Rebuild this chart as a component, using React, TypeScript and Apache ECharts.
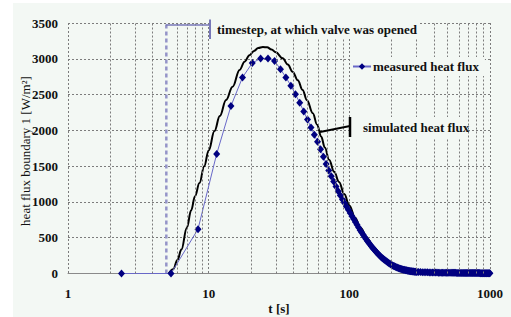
import React, { useEffect, useRef } from "react";
import * as echarts from "echarts";

// ---- data ----
const xTickLabels = ["1", "10", "100", "1000"];
const yTicks = [0, 500, 1000, 1500, 2000, 2500, 3000, 3500];

// minor log grid lines (2..9 of each decade); at t = 5 the valve line takes the gridline's place
const minorGridX = [
  2, 3, 4, 6, 7, 8, 9,
  20, 30, 40, 50, 60, 70, 80, 90,
  200, 300, 400, 500, 600, 700, 800, 900,
];

const valveOpenTime = 5; // s

// measured heat flux: time [s]
const measuredT = [
  2.4, 5.4, 8.4, 11.4, 14.4, 17.4, 20.4, 23.4, 26.4, 29.4,
  32.4, 35.4, 38.4, 41.4, 44.4, 47.4, 50.4, 53.4, 56.4, 59.4,
  62.4, 65.4, 68.4, 71.4, 74.4, 77.4, 80.4, 83.4, 86.4, 89.4,
  92.4, 95.4, 98.4, 101.4, 104.4, 107.4, 110.4, 113.4, 116.4, 119.4,
  122.4, 125.4, 128.4, 131.4, 134.4, 137.4, 140.4, 143.4, 146.4, 149.4,
  152.4, 155.4, 158.4, 161.4, 164.4, 167.4, 170.4, 173.4, 176.4, 179.4,
  182.4, 185.4, 188.4, 191.4, 194.4, 197.4, 200.4, 203.4, 206.4, 209.4,
  212.4, 215.4, 218.4, 221.4, 224.4, 227.4, 230.4, 233.4, 236.4, 239.4,
  242.4, 245.4, 248.4, 251.4, 254.4, 257.4, 260.4, 263.4, 266.4, 269.4,
  272.4, 275.4, 278.4, 281.4, 284.4, 287.4, 290.4, 293.4, 296.4, 299.4, 302.4,
  310, 320, 330, 340, 350, 360, 370, 380, 390, 400,
  410, 420, 430, 440, 450, 460, 470, 480, 490, 500,
  510, 520, 530, 540, 550, 560, 570, 580, 590, 600,
  610, 620, 630, 640, 650, 660, 670, 680, 690, 700,
  710, 720, 730, 740, 750, 760, 770, 780, 790, 800,
  810, 820, 830, 840, 850, 860, 870, 880, 890, 900,
  910, 920, 930, 940, 950, 960, 970, 980, 990, 998.4,
];

// measured heat flux: value [W/m²]
const measuredV = [
  0, 0, 620, 1670, 2340, 2740, 2940, 3005, 3005, 2970,
  2855, 2740, 2625, 2505, 2385, 2265, 2150, 2040, 1940, 1840,
  1735, 1630, 1530, 1440, 1360, 1285, 1215, 1150, 1090, 1035,
  985, 935, 890, 845, 800, 760, 720, 680, 642, 606,
  572, 540, 510, 482, 455, 430, 405, 382, 360, 340,
  320, 301, 283, 266, 250, 235, 221, 208, 196, 184,
  173, 163, 153, 144, 135, 127, 120, 113, 106, 100,
  94, 89, 84, 79, 75, 71, 67, 63, 60, 57,
  54, 51, 49, 46, 44, 42, 40, 38, 36, 35,
  33, 32, 30, 29, 28, 27, 26, 25, 24, 23, 22,
  21, 20, 19, 18, 17, 16, 15, 15, 14, 14,
  13, 13, 12, 12, 12, 11, 11, 11, 10, 10,
  10, 10, 9, 9, 9, 9, 9, 8, 8, 8,
  8, 8, 8, 8, 7, 7, 7, 7, 7, 7,
  7, 7, 7, 6, 6, 6, 6, 6, 6, 6,
  6, 6, 6, 6, 5, 5, 5, 5, 5, 5,
  5, 5, 5, 5, 5, 5, 5, 5, 5, 5,
];

// simulated heat flux
const simulatedT = [
  5.2, 5.6, 6.0, 6.4, 7.0, 7.5, 8.0, 8.6, 9.3, 10.0,
  11.0, 12.0, 13.3, 14.8, 16.6, 18.0, 19.5, 21.0, 22.5, 24.3,
  26.0, 28.0, 30.0, 33.6, 36.5, 39.5, 43.0, 46.5, 50.0, 55.0,
  59.0, 63.0, 67.0, 71.8, 78.0, 84.5, 92.0, 100, 110, 120,
  135, 150, 170, 200, 240, 300, 400, 600, 1000,
];
const simulatedV = [
  0, 60, 190, 335, 640, 880, 1080, 1265, 1500, 1720,
  1990, 2200, 2425, 2610, 2845, 2960, 3050, 3110, 3150, 3165,
  3160, 3130, 3090, 3007, 2920, 2820, 2700, 2565, 2420, 2240,
  2080, 1915, 1760, 1590, 1420, 1280, 1110, 950, 780, 640,
  480, 360, 240, 125, 60, 25, 8, 2, 0,
];

const measuredName = "measured heat flux";
const simulatedName = "simulated heat flux";
const valveText = "timestep, at which valve was opened";
const yTitle = "heat flux boundary 1 [W/m²]";
const xTitle = "t [s]";

const FONT = "'Liberation Serif', 'Times New Roman', serif";
const BG = "#f3f8f4";
const GRID_COLOR = "#7c7c7c";

export default function App() {
  const ref = useRef<HTMLDivElement>(null);

  useEffect(() => {
    if (!ref.current) return;
    const chart = echarts.init(ref.current, undefined, { renderer: "svg" });

    const measured = measuredT.map((t, i) => [t, measuredV[i]]);
    const simulated = simulatedT.map((t, i) => [t, simulatedV[i]]);
    const yMin = yTicks[0];
    const yMax = yTicks[yTicks.length - 1];

    const option: any = {
      animation: false,
      backgroundColor: BG,
      grid: { left: 68, right: 21, top: 23, bottom: 43.5 },
      xAxis: {
        type: "log",
        logBase: 10,
        min: 1,
        max: 1000,
        axisLine: { show: true, onZero: false, lineStyle: { color: "#8a8a8a", width: 1 } },
        axisTick: { show: false },
        axisLabel: {
          margin: 13,
          fontFamily: FONT,
          fontWeight: "bold",
          fontSize: 13,
          color: "#111",
          formatter: (v: number) => {
            const idx = Math.round(Math.log10(v));
            return xTickLabels[idx] ?? String(v);
          },
        },
        splitLine: { show: true, lineStyle: { color: GRID_COLOR, type: [2, 2], width: 1 } },
      },
      yAxis: {
        type: "value",
        min: yMin,
        max: yMax,
        interval: yTicks[1] - yTicks[0],
        axisLine: { show: false },
        axisTick: { show: false },
        axisLabel: {
          margin: 10,
          fontFamily: FONT,
          fontWeight: "bold",
          fontSize: 13,
          color: "#111",
          formatter: (v: number) => String(v),
        },
        splitLine: { show: true, lineStyle: { color: GRID_COLOR, type: [2, 2], width: 1 } },
      },
      legend: {
        data: [measuredName],
        left: 350,
        top: 57,
        orient: "vertical",
        backgroundColor: BG,
        padding: [3, 6, 3, 2],
        itemWidth: 18,
        itemHeight: 8,
        itemGap: 0,
        textStyle: {
          fontFamily: FONT,
          fontWeight: "bold",
          fontSize: 13,
          color: "#111",
          padding: [0, 0, 0, -3],
        },
        z: 20,
      },
      series: [
        {
          name: "grid-minor",
          type: "line",
          data: [],
          symbol: "none",
          silent: true,
          z: 1,
          markLine: {
            silent: true,
            symbol: ["none", "none"],
            label: { show: false },
            animation: false,
            lineStyle: { color: GRID_COLOR, type: [2, 2], width: 1 },
            data: minorGridX.map((v) => ({ xAxis: v })),
          },
        },
        {
          name: "valve",
          type: "line",
          data: [
            [valveOpenTime, yMin],
            [valveOpenTime, yMax],
          ],
          symbol: "none",
          silent: true,
          lineStyle: { color: "#9494c8", type: [4, 3], width: 2.5 },
          z: 2,
        },
        {
          name: simulatedName,
          type: "line",
          data: simulated,
          smooth: 0.4,
          smoothMonotone: "x",
          symbol: "none",
          lineStyle: { color: "#000000", width: 2 },
          z: 3,
        },
        {
          name: measuredName,
          type: "line",
          data: measured,
          symbol: "diamond",
          symbolSize: [7, 8],
          showSymbol: true,
          showAllSymbol: true,
          lineStyle: { color: "#6868c8", width: 1 },
          itemStyle: { color: "#000080" },
          z: 4,
        },
      ],
      graphic: [
        // white page margin around the chart area
        { type: "rect", shape: { x: 0, y: 0, width: 511, height: 3 }, style: { fill: "#ffffff" }, silent: true, z: 1 },
        { type: "rect", shape: { x: 0, y: 0, width: 13, height: 317 }, style: { fill: "#ffffff" }, silent: true, z: 1 },
        // valve annotation
        { type: "rect", shape: { x: 212, y: 13, width: 208, height: 25 }, style: { fill: BG }, silent: true, z: 50 },
        { type: "line", shape: { x1: 166, y1: 25, x2: 210, y2: 25 }, style: { stroke: "#7878b8", lineWidth: 1.5 }, silent: true, z: 51 },
        { type: "line", shape: { x1: 210, y1: 19.5, x2: 210, y2: 39 }, style: { stroke: "#7878b8", lineWidth: 2 }, silent: true, z: 51 },
        {
          type: "text",
          x: 217,
          y: 29,
          style: { text: valveText, font: `bold 13px ${FONT}`, fill: "#111", verticalAlign: "middle", align: "left" },
          silent: true,
          z: 52,
        },
        // simulated annotation
        { type: "rect", shape: { x: 352, y: 117, width: 114, height: 21 }, style: { fill: BG }, silent: true, z: 50 },
        { type: "line", shape: { x1: 320, y1: 132, x2: 350, y2: 126 }, style: { stroke: "#000", lineWidth: 2 }, silent: true, z: 51 },
        { type: "line", shape: { x1: 350, y1: 117, x2: 350, y2: 137 }, style: { stroke: "#000", lineWidth: 2.5 }, silent: true, z: 51 },
        {
          type: "text",
          x: 363,
          y: 127.5,
          style: { text: simulatedName, font: `bold 13px ${FONT}`, fill: "#111", verticalAlign: "middle", align: "left" },
          silent: true,
          z: 52,
        },
        // axis titles
        {
          type: "text",
          x: 25,
          y: 151,
          rotation: Math.PI / 2,
          style: { text: yTitle, font: `13px ${FONT}`, fill: "#111", verticalAlign: "middle", align: "center" },
          silent: true,
          z: 52,
        },
        {
          type: "text",
          x: 279,
          y: 308,
          style: { text: xTitle, font: `bold 13px ${FONT}`, fill: "#111", verticalAlign: "middle", align: "center" },
          silent: true,
          z: 52,
        },
      ],
    };

    chart.setOption(option);
    return () => chart.dispose();
  }, []);

  return (
    <div
      ref={ref}
      style={{ position: "absolute", left: 0, top: 0, width: 511, height: 317 }}
    />
  );
}
